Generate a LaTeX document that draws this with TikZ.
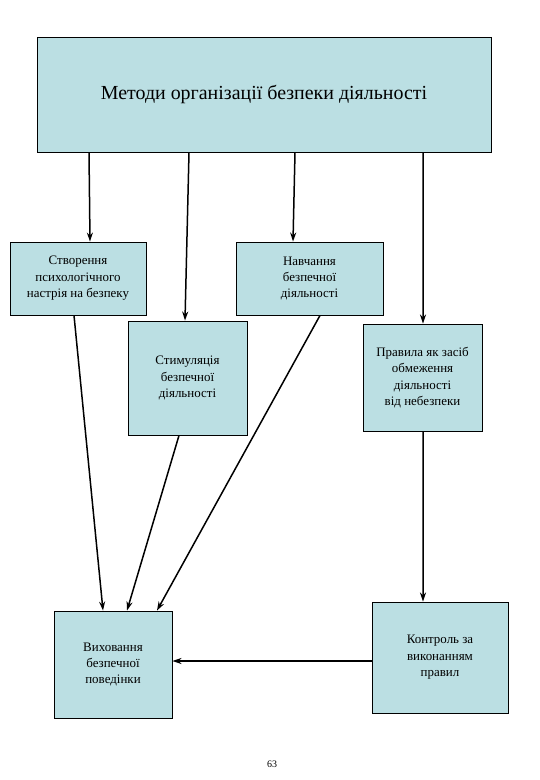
\documentclass[tikz,border=0pt]{standalone}
\usepackage{fontspec}
\setmainfont{Liberation Serif}
\usetikzlibrary{arrows.meta}
\definecolor{boxfill}{RGB}{187,223,227}
\tikzset{
  box/.style={draw=black, line width=0.9bp, fill=boxfill, inner sep=0pt, align=center,
    font=\fontsize{13}{16.5}\selectfont},
  conn/.style={line width=1.5bp, -{Stealth[length=9bp,width=6bp]}}
}
\begin{document}
\begin{tikzpicture}[x=1bp,y=-1bp]
\useasboundingbox (0,0) rectangle (540,780);
\node[box, minimum width=454bp, minimum height=115bp, font=\fontsize{20}{24}\selectfont] (top) at (264,94.5) {Методи організації безпеки діяльності};
\node[box, minimum width=136bp, minimum height=73bp] (b1) at (78,278.5) {Створення\\психологічного\\настрія на безпеку};
\node[box, minimum width=147bp, minimum height=73bp] (b2) at (309.5,278.5) {Навчання\\безпечної\\діяльності};
\node[box, minimum width=119bp, minimum height=114bp] (b3) at (187.5,378) {Стимуляція\\безпечної\\діяльності};
\node[box, minimum width=119bp, minimum height=107bp] (b4) at (422.5,377.5) {Правила як засіб\\обмеження\\діяльності\\від небезпеки};
\node[box, minimum width=118bp, minimum height=107bp] (b5) at (113,664.5) {Виховання\\безпечної\\поведінки};
\node[box, minimum width=136bp, minimum height=111bp] (b6) at (440,657.5) {Контроль за\\виконанням\\правил};
\node[font=\fontsize{10}{12}\selectfont] (pg) at (272,764) {63};
\draw[conn] ([xshift=-175bp]top.south) -- ([xshift=12bp]b1.north);
\draw[conn] ([xshift=-75bp]top.south) -- ([xshift=-2.5bp]b3.north);
\draw[conn] ([xshift=31bp]top.south) -- ([xshift=-16.5bp]b2.north);
\draw[conn] ([xshift=159bp]top.south) -- ([xshift=0.5bp]b4.north);
\draw[conn] ([xshift=-4bp]b1.south) -- ([xshift=-10bp]b5.north);
\draw[conn] ([xshift=-8.5bp]b3.south) -- ([xshift=14bp]b5.north);
\draw[conn] ([xshift=10.5bp]b2.south) -- ([xshift=44bp]b5.north);
\draw[conn] ([xshift=0.5bp]b4.south) -- ([xshift=-17bp]b6.north);
\draw[conn] ([yshift=-3.5bp]b6.west) -- ([yshift=-3.5bp]b6.west -| b5.east);
\end{tikzpicture}
\end{document}
